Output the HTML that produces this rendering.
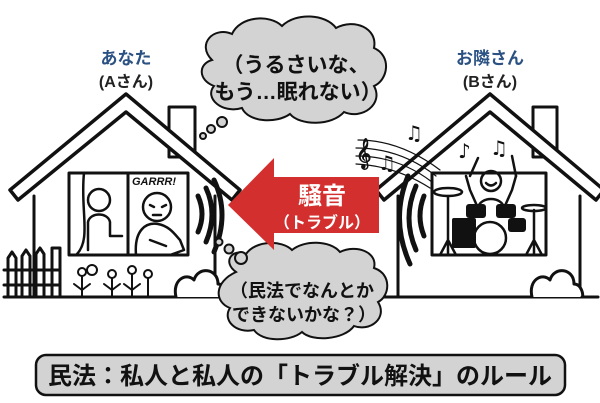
<!DOCTYPE html>
<html><head><meta charset="utf-8"><style>
html,body{margin:0;padding:0;background:#fff}
svg{display:block}
text{font-family:"Liberation Sans","Noto Sans CJK JP",sans-serif;font-weight:bold}
</style></head><body>
<svg width="600" height="403" viewBox="0 0 600 403" xmlns="http://www.w3.org/2000/svg">
<g fill="none" stroke="#111" stroke-width="3" stroke-linejoin="round" stroke-linecap="round">
  <rect x="169" y="107" width="26" height="50" fill="#fff"/>
  <path d="M34 196 V297 M215 196 V297"/>
  <path d="M10 190 L126 94 L240 190 L232 200 L126 112 L18 200 Z" fill="#fff" stroke-width="3.5"/>
  <rect x="69" y="173" width="119" height="82"/>
  <line x1="128" y1="173" x2="128" y2="255"/>
  <rect x="533" y="107" width="24" height="50" fill="#fff"/>
  <path d="M398 196 V297 M580 196 V297"/>
  <path d="M376 190 L490 94 L604 190 L596 200 L490 112 L384 200 Z" fill="#fff" stroke-width="3.5"/>
  <rect x="432" y="173" width="114" height="82"/>
  <line x1="4" y1="297" x2="598" y2="297"/>
  <path d="M176 297 C172 280 186 272 194 280 C198 266 218 268 218 284 C226 284 226 297 224 297" fill="#fff"/>
  <path d="M532 297 C528 280 542 272 550 280 C554 266 574 268 574 284 C582 284 584 297 582 297" fill="#fff"/>
  <path d="M8 297 V258 L12 252 L16 258 V297 M22 297 V256 L26 250 L30 256 V297 M36 297 V254 L40 248 L44 254 V297 M52 297 V248 H60 V297 M4 270 H60 M4 285 H60"/>
  <g stroke-width="2">
    <circle cx="82" cy="272" r="4"/><path d="M82 276 V296 M82 290 L74 284 M82 290 L90 284"/>
    <circle cx="92" cy="270" r="5"/>
    <circle cx="112" cy="274" r="4"/><path d="M112 278 V296 M112 290 L104 284 M112 290 L120 284"/>
    <circle cx="132" cy="270" r="4"/><path d="M132 274 V296 M132 290 L124 284 M132 290 L140 284"/>
    <circle cx="148" cy="274" r="4"/><path d="M148 278 V296"/>
  </g>
  <g stroke-width="2.5">
    <circle cx="99" cy="200" r="11"/>
    <path d="M88 250 V222 C90 212 108 212 110 222 V236 H122 M84 173 C80 210 92 240 76 255"/>
    <circle cx="157" cy="207" r="14"/>
    <path d="M150 205 l4 2 M162 207 l4 -2 M153 215 h8"/>
    <path d="M136 255 C134 230 146 222 158 224 C170 226 176 236 180 240 L184 250 L170 255 M150 240 L166 246"/>
  </g>
  <g stroke-width="2.5">
    <circle cx="491" cy="181" r="10"/>
    <path d="M486 183 q5 5 10 0"/>
    <path d="M478 208 L470 190 L466 176 M504 208 L512 190 L516 176 M478 208 C480 196 502 196 504 208"/>
    <path d="M470 176 L478 158 M516 176 L512 156"/>
    <ellipse cx="448" cy="192" rx="14" ry="4"/>
    <ellipse cx="534" cy="208" rx="12" ry="3"/>
    <path d="M448 196 V255 M534 210 V255 M440 255 L448 240 L456 255 M526 255 L534 240 L542 255"/>
    <circle cx="490" cy="238" r="16" fill="#fff"/>
  </g>
  <g fill="#111" stroke="none">
    <rect x="452" y="218" width="24" height="30" rx="2"/>
    <rect x="466" y="204" width="20" height="14" rx="3"/>
    <rect x="496" y="204" width="20" height="14" rx="3"/>
    <rect x="508" y="218" width="18" height="14" rx="3"/>
  </g>
  <g stroke-width="5">
    <path d="M198 196 Q206 214 198 232"/>
    <path d="M206 188 Q218 214 206 242"/>
    <path d="M214 180 Q230 214 214 252"/>
    <path d="M424 196 Q416 216 424 236"/>
    <path d="M416 186 Q402 218 416 250"/>
    <path d="M408 176 Q390 220 410 264"/>
  </g>
  <g stroke-width="1.2">
    <path d="M358 140 Q400 140 440 170 M356 148 Q400 148 436 176 M356 156 Q398 156 432 182 M356 164 Q396 166 430 188"/>
  </g>
</g>
<g fill="#111" font-size="20">
  <text x="356" y="162" font-size="26" style="font-family:'DejaVu Sans',sans-serif">𝄞</text>
  <text x="405" y="140" style="font-family:'DejaVu Sans',sans-serif">♫</text>
  <text x="378" y="170" style="font-family:'DejaVu Sans',sans-serif">♫</text>
  <text x="458" y="158" style="font-family:'DejaVu Sans',sans-serif">♪</text>
  <text x="490" y="155" style="font-family:'DejaVu Sans',sans-serif">♫</text>
</g>
<text x="132" y="185" font-size="11" font-style="italic" fill="#111">GARRR!</text>
<text x="126" y="64" font-size="17" fill="#2b5283" text-anchor="middle">あなた</text>
<text x="126" y="87" font-size="16" fill="#222" text-anchor="middle">(Aさん)</text>
<text x="490" y="64" font-size="17" fill="#2b5283" text-anchor="middle">お隣さん</text>
<text x="490" y="87" font-size="16" fill="#222" text-anchor="middle">(Bさん)</text>
<g fill="#d3d3d3" stroke="#111" stroke-width="2">
  <path d="M212 60 C196 44 214 26 232 34 C240 16 270 14 282 26 C296 12 326 14 336 28 C354 18 378 28 374 48 C392 56 388 80 374 86 C384 104 362 120 344 112 C332 126 300 126 290 114 C276 124 248 122 242 108 C222 114 204 98 214 86 C198 80 198 64 212 60 Z"/>
  <circle cx="222" cy="122" r="5"/><circle cx="211" cy="129" r="4"/><circle cx="203" cy="136" r="3"/>
  <path d="M236 272 C222 262 232 248 246 254 C256 240 282 240 292 250 C304 240 330 240 340 252 C356 244 378 252 374 268 C392 274 390 296 378 302 C388 318 370 332 354 326 C344 340 312 342 302 332 C290 342 262 342 254 330 C236 334 222 320 230 308 C214 302 214 282 236 272 Z"/>
  <circle cx="241" cy="258" r="6"/><circle cx="229" cy="249" r="4.5"/><circle cx="219" cy="242" r="3.5"/>
</g>
<text x="296" y="72" font-size="21" fill="#111" text-anchor="middle">（うるさいな、</text>
<text x="298" y="99" font-size="21" fill="#111" text-anchor="middle">もう…眠れない）</text>
<text x="302" y="297" font-size="18" fill="#111" text-anchor="middle">（民法でなんとか</text>
<text x="304" y="321" font-size="18" fill="#111" text-anchor="middle">できないかな？）</text>
<path d="M228 205 L274 158 V177 H379 V233 H274 V250 Z" fill="#d32f2f"/>
<text x="322" y="204" font-size="24" fill="#fff" text-anchor="middle">騒音</text>
<text x="322" y="228" font-size="16" fill="#fff" text-anchor="middle">（トラブル）</text>
<rect x="36" y="355" width="529" height="40" rx="10" fill="#d3d3d3" stroke="#111" stroke-width="2.5"/>
<text x="300" y="384" font-size="24" fill="#111" text-anchor="middle">民法：私人と私人の「トラブル解決」のルール</text>
</svg>
</body></html>
